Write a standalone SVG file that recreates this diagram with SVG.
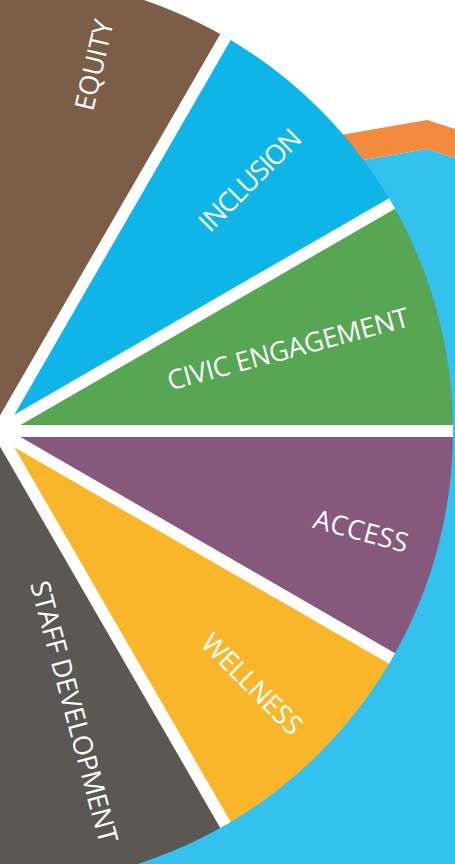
<svg xmlns="http://www.w3.org/2000/svg" width="455" height="864" viewBox="0 0 455 864">
<style>
.lbl{font-family:"Open Sans","Noto Sans","DejaVu Sans",sans-serif;font-size:27px;fill:#ffffff;text-anchor:middle}
.gap{stroke:#ffffff;stroke-width:12;stroke-linecap:butt;fill:none}
</style>
<rect x="0" y="0" width="455" height="864" fill="#ffffff"/>
<g id="background">
<path d="M300,142 L427,120 L455,129 L455,158 L427,149 L300,171 Z" fill="#F38A3D"/>
<path d="M300,171 L427,149 L455,158 L455,864 L100,864 L100,300 Z" fill="#34C1EE"/>
</g>
<g id="equity">
<path d="M-2,431 L-229.5,36.96 A455,455 0 0 1 225.5,36.96 Z" fill="#7C5D47"/>
<text class="lbl" transform="translate(94,65) rotate(-77)" x="0" y="9.5" textLength="92">EQUITY</text>
</g>
<g id="inclusion">
<path d="M-2,431 L225.5,36.96 A455,455 0 0 1 392.04,203.5 Z" fill="#0FB5E6"/>
<text class="lbl" transform="translate(250,180) rotate(-45)" x="0" y="9.5" textLength="132">INCLUSION</text>
</g>
<g id="civic-engagement">
<path d="M-2,431 L392.04,203.5 A455,455 0 0 1 453,431 Z" fill="#56A654"/>
<text class="lbl" transform="translate(288,349) rotate(-15)" x="0" y="9.5" textLength="249">CIVIC ENGAGEMENT</text>
</g>
<g id="access">
<path d="M-2,431 L453,431 A455,455 0 0 1 392.04,658.5 Z" fill="#86597C"/>
<text class="lbl" transform="translate(361,531) rotate(15)" x="0" y="9.5" textLength="97">ACCESS</text>
</g>
<g id="wellness">
<path d="M-2,431 L392.04,658.5 A455,455 0 0 1 225.5,825.04 Z" fill="#FAB62B"/>
<text class="lbl" transform="translate(252,684) rotate(45)" x="0" y="9.5" textLength="130">WELLNESS</text>
</g>
<g id="staff-development">
<path d="M-2,431 L225.5,825.04 A455,455 0 0 1 -229.5,825.04 Z" fill="#5B5853"/>
<text class="lbl" transform="translate(74,712) rotate(75)" x="0" y="9.5" textLength="270">STAFF DEVELOPMENT</text>
</g>
<g id="connectors">
<line class="gap" x1="-2" y1="431" x2="225.5" y2="36.96"/>
<line class="gap" x1="-2" y1="431" x2="392.04" y2="203.5"/>
<line class="gap" x1="-2" y1="431" x2="453" y2="431"/>
<line class="gap" x1="-2" y1="431" x2="392.04" y2="658.5"/>
<line class="gap" x1="-2" y1="431" x2="225.5" y2="825.04"/>
</g>
</svg>
